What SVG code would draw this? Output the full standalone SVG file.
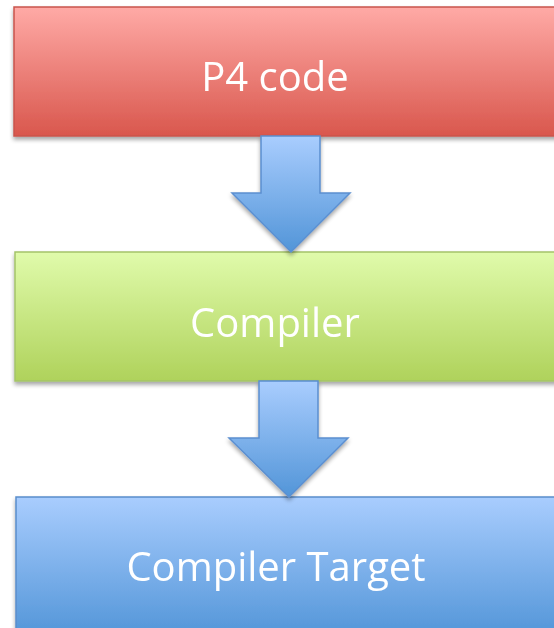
<svg xmlns="http://www.w3.org/2000/svg" width="554" height="628" viewBox="0 0 554 628">
<style>
.lbl{font-family:"Open Sans","Liberation Sans",sans-serif;font-size:40px;fill:#ffffff;text-anchor:middle}
</style>
<defs>
<linearGradient id="gr" x1="0" y1="0" x2="0" y2="1"><stop offset="0" stop-color="#ffaaa6"/><stop offset="1" stop-color="#d9574d"/></linearGradient>
<linearGradient id="gg" x1="0" y1="0" x2="0" y2="1"><stop offset="0" stop-color="#e0fbab"/><stop offset="1" stop-color="#afd25b"/></linearGradient>
<linearGradient id="gb" x1="0" y1="0" x2="0" y2="1"><stop offset="0" stop-color="#a9cdfe"/><stop offset="1" stop-color="#5295d8"/></linearGradient>
<filter id="sh" x="-10%" y="-10%" width="120%" height="130%"><feGaussianBlur in="SourceAlpha" stdDeviation="2"/><feOffset dx="0" dy="3"/><feComponentTransfer><feFuncA type="linear" slope="0.35"/></feComponentTransfer><feMerge><feMergeNode/><feMergeNode in="SourceGraphic"/></feMerge></filter>
</defs>
<g id="p4code" filter="url(#sh)">
<rect x="14" y="7" width="560" height="129" fill="url(#gr)" stroke="#c9544c" stroke-width="1.5"/>
<text class="lbl" x="275" y="91">P4 code</text>
</g>
<g id="compiler" filter="url(#sh)">
<rect x="15" y="252" width="560" height="129" fill="url(#gg)" stroke="#a4c36a" stroke-width="1.5"/>
<text class="lbl" x="275" y="337">Compiler</text>
</g>
<g id="target" filter="url(#sh)">
<rect x="16" y="497" width="560" height="140" fill="url(#gb)" stroke="#5a8dcc" stroke-width="1.5"/>
<text class="lbl" x="276" y="581">Compiler Target</text>
</g>
<g id="connectors" filter="url(#sh)">
<path d="M261 136 H320 V193 H350 L291 252 L232 193 H261 Z" fill="url(#gb)" stroke="#5b8fd0" stroke-width="1.5" stroke-linejoin="miter"/>
<path d="M259 381 H318 V438 H348 L289 497 L229 438 H259 Z" fill="url(#gb)" stroke="#5b8fd0" stroke-width="1.5" stroke-linejoin="miter"/>
</g>
</svg>
